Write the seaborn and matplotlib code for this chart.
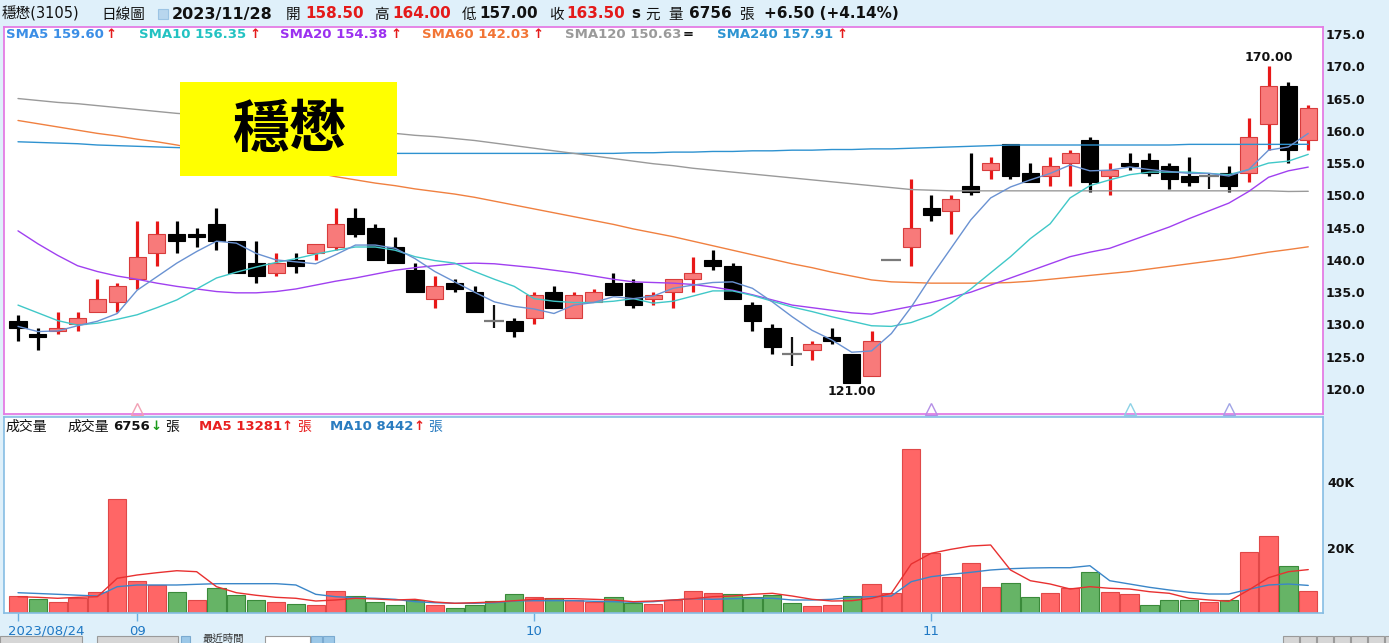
import numpy as np
import matplotlib
matplotlib.use("Agg")
import matplotlib.pyplot as plt
from matplotlib.patches import Rectangle
from matplotlib.transforms import ScaledTranslation
import seaborn as sns

# ---------------- data ----------------
dates = ["2023-08-24", "2023-08-25", "2023-08-28", "2023-08-29", "2023-08-30", "2023-08-31",
         "2023-09-01", "2023-09-04", "2023-09-05", "2023-09-06", "2023-09-07", "2023-09-08",
         "2023-09-11", "2023-09-12", "2023-09-13", "2023-09-14", "2023-09-15",
         "2023-09-18", "2023-09-19", "2023-09-20", "2023-09-21", "2023-09-22",
         "2023-09-25", "2023-09-26", "2023-09-27", "2023-09-28",
         "2023-10-02", "2023-10-03", "2023-10-04", "2023-10-05", "2023-10-06",
         "2023-10-11", "2023-10-12", "2023-10-13",
         "2023-10-16", "2023-10-17", "2023-10-18", "2023-10-19", "2023-10-20",
         "2023-10-23", "2023-10-24", "2023-10-25", "2023-10-26", "2023-10-27",
         "2023-10-30", "2023-10-31",
         "2023-11-01", "2023-11-02", "2023-11-03",
         "2023-11-06", "2023-11-07", "2023-11-08", "2023-11-09", "2023-11-10",
         "2023-11-13", "2023-11-14", "2023-11-15", "2023-11-16", "2023-11-17",
         "2023-11-20", "2023-11-21", "2023-11-22", "2023-11-23", "2023-11-24",
         "2023-11-27", "2023-11-28"]

opens = [130.5, 128.5, 129.0, 130.0, 132.0, 133.5, 137.0, 141.0, 144.0, 144.0,
         145.5, 143.0, 139.5, 138.0, 140.0, 141.0, 142.0, 146.5, 145.0, 142.0,
         138.5, 134.0, 136.5, 135.0, 130.5, 130.5, 131.0, 135.0, 131.0, 133.5,
         136.5, 136.5, 134.0, 135.0, 137.0, 140.0, 139.0, 133.0, 129.5, 125.5,
         126.0, 128.0, 125.5, 122.0, 140.0, 142.0, 148.0, 147.5, 151.5, 154.0,
         158.0, 153.5, 153.0, 155.0, 158.5, 153.0, 155.0, 155.5, 154.5, 153.0,
         153.0, 153.5, 153.5, 161.0, 167.0, 158.5]
highs = [131.5, 129.5, 132.0, 132.0, 137.0, 136.5, 146.0, 146.0, 146.0, 145.0,
         148.0, 143.0, 143.0, 141.0, 141.0, 142.5, 148.0, 148.0, 145.5, 143.5,
         139.5, 137.5, 137.0, 136.0, 133.0, 131.0, 135.0, 136.0, 135.0, 135.5,
         138.0, 137.0, 135.0, 137.0, 140.5, 141.5, 139.5, 133.5, 130.0, 128.0,
         127.5, 129.5, 125.5, 129.0, 140.0, 152.5, 150.0, 150.0, 156.5, 156.0,
         158.0, 155.0, 156.0, 157.0, 159.0, 155.0, 156.5, 156.5, 155.0, 156.0,
         153.5, 154.5, 162.0, 170.0, 167.5, 164.0]
lows = [127.5, 126.0, 128.5, 129.0, 132.0, 132.0, 135.5, 139.0, 141.0, 142.0,
        141.5, 138.0, 136.5, 137.5, 138.0, 140.0, 141.5, 143.5, 140.0, 139.5,
        135.0, 132.5, 135.0, 132.0, 129.5, 128.0, 130.0, 132.5, 131.0, 133.5,
        134.5, 132.5, 133.0, 132.5, 135.0, 138.5, 134.0, 129.0, 125.5, 123.5,
        124.5, 127.0, 121.0, 122.0, 140.0, 139.0, 146.0, 144.0, 150.0, 152.5,
        152.5, 152.0, 151.5, 151.5, 150.5, 150.0, 154.0, 153.0, 151.0, 151.5,
        151.0, 150.5, 152.0, 157.0, 155.0, 157.0]
closes = [129.5, 128.0, 129.5, 131.0, 134.0, 136.0, 140.5, 144.0, 143.0, 143.5,
          143.0, 138.0, 137.5, 139.5, 139.0, 142.5, 145.5, 144.0, 140.0, 139.5,
          135.0, 136.0, 135.5, 132.0, 130.5, 129.0, 134.5, 132.5, 134.5, 135.0,
          134.5, 133.0, 134.5, 137.0, 138.0, 139.0, 134.0, 130.5, 126.5, 125.5,
          127.0, 127.5, 121.0, 127.5, 140.0, 145.0, 147.0, 149.5, 150.5, 155.0,
          153.0, 152.0, 154.5, 156.5, 152.0, 154.0, 154.5, 153.5, 152.5, 152.0,
          153.0, 151.5, 159.0, 167.0, 157.0, 163.5]
volumes = [5200, 4280, 3470, 4490, 6430, 34880, 9790, 8570, 6430, 3980,
           7550, 5510, 3980, 3370, 2750, 2550, 6840, 5200, 3370, 2550,
           3980, 2550, 1630, 2550, 3570, 5810, 4900, 4490, 3880, 3270,
           4900, 3060, 2750, 3980, 6680, 5970, 5670, 4850, 5570, 2910,
           2090, 2600, 5260, 8730, 6190, 50300, 18300, 10970, 15380, 7810,
           9130, 4850, 5970, 7500, 12400, 6490, 5670, 2600, 3830, 4040,
           3220, 3930, 18620, 23530, 14340, 6756]

sma5 = [129.7, 128.9, 129.0, 129.8, 130.5, 131.7, 135.3, 137.4, 139.5, 141.3,
        142.9, 142.6, 141.0, 140.0, 139.7, 139.4, 140.8, 142.3, 142.3, 141.8,
        140.2, 138.2, 136.6, 135.0, 133.5, 132.8, 132.4, 131.7, 133.0, 133.4,
        134.3, 134.0, 134.4, 135.6, 136.1, 136.5, 136.6, 135.6, 133.5, 131.2,
        129.1, 127.6, 125.7, 125.9, 128.6, 132.7, 137.4, 141.8, 146.2, 149.6,
        151.3, 152.4, 153.4, 154.7, 153.8, 153.9, 154.4, 154.0, 153.7, 153.4,
        153.4, 153.0, 154.0, 157.0, 157.5, 159.60]
sma10 = [133.0, 131.8, 130.6, 129.9, 130.2, 130.8, 131.5, 132.6, 133.8, 135.5,
         137.2, 138.1, 138.9, 139.6, 140.2, 140.9, 141.5, 142.0, 142.0, 141.5,
         140.5, 139.9, 139.5, 138.2, 137.0, 135.9, 134.0, 133.6, 133.4, 133.4,
         133.6, 134.0, 133.3, 133.6, 134.4, 135.2, 135.2, 134.5, 133.6, 132.7,
         132.0, 131.2, 130.5, 129.8, 129.7, 130.3, 131.4, 133.3, 135.5, 138.0,
         140.5, 143.3, 145.6, 149.6, 151.5, 152.4, 153.2, 153.6, 153.6, 153.6,
         153.4, 153.2, 154.0, 155.0, 155.3, 156.35]
sma20 = [144.5, 142.5, 140.7, 139.1, 138.2, 137.5, 137.0, 136.4, 135.9, 135.5,
         135.1, 134.9, 134.9, 135.1, 135.5, 136.1, 136.7, 137.2, 137.8, 138.4,
         138.8, 139.1, 139.4, 139.5, 139.4, 139.1, 138.8, 138.4, 138.0, 137.5,
         137.0, 136.6, 136.5, 136.4, 136.2, 135.8, 135.3, 134.6, 133.8, 133.0,
         132.6, 132.2, 131.8, 131.6, 132.2, 132.8, 133.4, 134.2, 135.0, 136.1,
         137.2, 138.3, 139.4, 140.5, 141.2, 141.8, 142.9, 144.0, 145.1, 146.4,
         147.6, 148.8, 150.6, 152.8, 153.8, 154.38]
sma60 = [161.6, 161.1, 160.6, 160.1, 159.6, 159.2, 158.7, 158.3, 157.8, 157.2,
         156.6, 156.0, 155.3, 154.7, 154.1, 153.5, 152.9, 152.4, 151.9, 151.5,
         151.0, 150.6, 150.2, 149.7, 149.1, 148.5, 147.9, 147.3, 146.7, 146.1,
         145.5, 144.8, 144.2, 143.6, 142.9, 142.2, 141.5, 140.8, 140.1, 139.4,
         138.8, 138.1, 137.5, 136.9, 136.6, 136.5, 136.4, 136.4, 136.4, 136.4,
         136.5, 136.7, 137.0, 137.3, 137.6, 137.9, 138.2, 138.6, 139.0, 139.4,
         139.8, 140.2, 140.7, 141.2, 141.6, 142.03]
sma120 = [165.0, 164.7, 164.4, 164.2, 163.9, 163.6, 163.3, 163.0, 162.7, 162.5,
          162.2, 161.9, 161.6, 161.3, 161.1, 160.8, 160.5, 160.2, 159.9, 159.6,
          159.3, 159.1, 158.8, 158.5, 158.1, 157.7, 157.3, 156.9, 156.5, 156.1,
          155.7, 155.3, 154.9, 154.6, 154.2, 153.9, 153.6, 153.3, 153.0, 152.7,
          152.4, 152.1, 151.8, 151.5, 151.2, 150.9, 150.8, 150.7, 150.7, 150.7,
          150.7, 150.7, 150.7, 150.7, 150.7, 150.7, 150.7, 150.7, 150.7, 150.7,
          150.7, 150.7, 150.7, 150.7, 150.6, 150.63]
sma240 = [158.3, 158.2, 158.1, 158.0, 157.8, 157.7, 157.6, 157.5, 157.4, 157.3,
          157.2, 157.1, 157.0, 156.9, 156.8, 156.7, 156.6, 156.6, 156.5, 156.5,
          156.5, 156.5, 156.5, 156.5, 156.5, 156.5, 156.5, 156.5, 156.5, 156.5,
          156.5, 156.6, 156.6, 156.7, 156.7, 156.8, 156.8, 156.9, 156.9, 157.0,
          157.0, 157.1, 157.1, 157.2, 157.2, 157.3, 157.4, 157.5, 157.6, 157.7,
          157.8, 157.8, 157.8, 157.8, 157.8, 157.8, 157.8, 157.8, 157.8, 157.9,
          157.9, 157.9, 157.9, 157.9, 157.9, 157.91]
vol_ma5 = [4990, 4800, 4500, 4800, 4990, 10620, 11630, 12330, 12940, 12640,
           8050, 6210, 5420, 4800, 4500, 3670, 3980, 4500, 4280, 3980,
           4190, 3370, 2970, 3150, 3370, 3760, 4190, 4380, 4380, 4190,
           3980, 3460, 3670, 3980, 4380, 4990, 5200, 5720, 6030, 5200,
           4190, 3670, 3760, 4500, 6030, 14990, 18270, 19490, 20500, 20810,
           13160, 9880, 8870, 7340, 8050, 7560, 7340, 6520, 6030, 4500,
           3980, 3580, 7040, 10800, 12640, 13281]
vol_ma10 = [6210, 5970, 5720, 5450, 5200, 8050, 8570, 8570, 8570, 8780,
            8970, 8970, 8970, 8970, 8570, 5720, 4990, 4680, 4500, 4190,
            3460, 3150, 2970, 2970, 3150, 3670, 3760, 3760, 3760, 3580,
            3460, 3270, 3460, 3980, 4380, 4190, 4380, 4500, 4500, 3980,
            3980, 4190, 4800, 4990, 5200, 9580, 11110, 11840, 12450, 13160,
            13560, 13770, 13860, 13860, 14470, 9880, 8870, 7860, 7040, 6330,
            5810, 5810, 7250, 8570, 8870, 8442]

price_ticks = [120, 125, 130, 135, 140, 145, 150, 155, 160, 165, 170, 175]
vol_ticks = [20000, 40000]
vol_tick_labels = ["20K", "40K"]
date_tick_dates = ["2023-08-24", "2023-09-01", "2023-10-02", "2023-11-01"]
date_tick_labels = ["2023/08/24", "09", "10", "11"]
marker_dates = ["2023-09-01", "2023-11-01", "2023-11-15", "2023-11-22"]
marker_colors = ["#f2a0b4", "#b48ee6", "#8cd2e6", "#a0a4e6"]

# ---------------- style ----------------
sns.set_theme(style="white")
plt.rcParams["font.family"] = ["DejaVu Sans", "Noto Sans CJK TC"]

W, Hh = 1389, 643
fig = plt.figure(figsize=(W / 100, Hh / 100), dpi=100, facecolor="#dff0fa")


def fx(px):
    return px / W


def fy(py):
    return 1 - py / Hh


x_left, x_right = 4, 1323
ax_p = fig.add_axes([fx(x_left), fy(414), fx(x_right - x_left), (414 - 27) / Hh])
ax_v = fig.add_axes([fx(x_left), fy(613), fx(x_right - x_left), (613 - 417) / Hh])

step = 19.85
xlim = ((x_left - 18) / step, (x_right - 18) / step)

idx = np.arange(len(closes))
O = np.array(opens); Hi = np.array(highs); Lo = np.array(lows); C = np.array(closes)
V = np.array(volumes)

# ---- price panel ----
ax_p.set_facecolor("white")
up = C > O
dn = C < O
fl = C == O
ax_p.vlines(idx[up], Lo[up], Hi[up], color="#e81818", lw=2.3, zorder=2)
ax_p.vlines(idx[dn], Lo[dn], Hi[dn], color="black", lw=2.3, zorder=2)
ax_p.vlines(idx[fl], Lo[fl], Hi[fl], color="#111111", lw=1.6, zorder=2)
ax_p.bar(idx[up], C[up] - O[up], bottom=O[up], width=0.86, color="#f87a7a",
         edgecolor="#d83c3c", linewidth=0.8, zorder=3)
ax_p.bar(idx[dn], O[dn] - C[dn], bottom=C[dn], width=0.86, color="black",
         edgecolor="black", linewidth=0.8, zorder=3)
ax_p.hlines(C[fl], idx[fl] - 0.5, idx[fl] + 0.5, color="#7a7a7a", lw=1.6, zorder=3)

ma_specs = [(sma240, "#2e92d0"), (sma120, "#9a9a9a"), (sma60, "#f08040"),
            (sma20, "#a040f0"), (sma10, "#40c8c8"), (sma5, "#6a92d2")]
for vals, col in ma_specs:
    sns.lineplot(x=idx, y=vals, ax=ax_p, color=col, linewidth=1.0, legend=False, zorder=4)

ax_p.set_xlim(*xlim)
ax_p.set_ylim(116.13, 176.08)
ax_p.set_xticks([])
ax_p.set_yticks(price_ticks)
ax_p.set_yticklabels([f"{v:.1f}" for v in price_ticks])
ax_p.yaxis.tick_right()
ax_p.tick_params(axis="y", length=0, pad=2, labelsize=9, labelcolor="#111111")
for t in ax_p.get_yticklabels():
    t.set_fontweight("bold")
ax_p.set_xlabel(""); ax_p.set_ylabel("")
for s in ax_p.spines.values():
    s.set_visible(True)
    s.set_color("#e47ce4")
    s.set_linewidth(1.3)

# high / low labels
i_hi = int(np.argmax(Hi)); i_lo = int(np.argmin(Lo))
ax_p.text(i_hi, Hi[i_hi] + 0.35, f"{Hi[i_hi]:.2f}", ha="center", va="bottom",
          fontsize=9, fontweight="bold", color="#111111", zorder=6)
ax_p.text(i_lo, Lo[i_lo] - 0.35, f"{Lo[i_lo]:.2f}", ha="center", va="top",
          fontsize=9, fontweight="bold", color="#111111", zorder=6)

# event markers at the bottom of the price panel
for d, col in zip(marker_dates, marker_colors):
    ax_p.plot(dates.index(d), 116.85, marker="^", markersize=9, mfc="none",
              mec=col, mew=1.0, clip_on=False, zorder=6)

# ---- volume panel ----
ax_v.set_facecolor("white")
vol_up = np.r_[True, C[1:] >= C[:-1]]
ax_v.bar(idx[vol_up], V[vol_up], width=0.92, color="#ff6666", edgecolor="#e04848",
         linewidth=0.8, zorder=2)
ax_v.bar(idx[~vol_up], V[~vol_up], width=0.92, color="#66b466", edgecolor="#3a8a3a",
         linewidth=0.8, zorder=2)
sns.lineplot(x=idx, y=vol_ma10, ax=ax_v, color="#3a86c8", linewidth=1.0, legend=False, zorder=4)
sns.lineplot(x=idx, y=vol_ma5, ax=ax_v, color="#e83030", linewidth=1.0, legend=False, zorder=4)
ax_v.set_xlim(*xlim)
ax_v.set_ylim(0, 59980)
ax_v.set_yticks(vol_ticks)
ax_v.set_yticklabels(vol_tick_labels)
ax_v.yaxis.tick_right()
ax_v.tick_params(axis="y", length=0, pad=3, labelsize=9, labelcolor="#111111")
for t in ax_v.get_yticklabels():
    t.set_fontweight("bold")
ax_v.set_xticks([dates.index(d) for d in date_tick_dates])
ax_v.set_xticklabels(date_tick_labels)
ax_v.tick_params(axis="x", bottom=True, length=6, width=1, color="#6aaee0",
                 pad=2.5, labelsize=9.5, labelcolor="#1f78c4")
first = ax_v.get_xticklabels()[0]
first.set_ha("left")
first.set_transform(first.get_transform() + ScaledTranslation(-0.10, 0, fig.dpi_scale_trans))
ax_v.set_xlabel(""); ax_v.set_ylabel("")
for s in ax_v.spines.values():
    s.set_visible(True)
    s.set_color("#86bde4")
    s.set_linewidth(1.2)

# ---------------- texts ----------------
def ftxt(xp, yp, s, **kw):
    kw.setdefault("va", "center")
    kw.setdefault("ha", "left")
    fig.text(fx(xp), fy(yp), s, **kw)


def fbox(x0, y0, x1, y1, fc, ec, lw=0.8, z=1):
    fig.patches.append(Rectangle((fx(x0), fy(y1)), fx(x1 - x0), (y1 - y0) / Hh,
                                 transform=fig.transFigure, facecolor=fc,
                                 edgecolor=ec, lw=lw, zorder=z))

# header line
hy = 14
ftxt(2, hy, "穩懋(3105)", fontsize=10.5, color="#111111")
ftxt(101, hy, "日線圖", fontsize=10.5, color="#111111")
fbox(158, 9, 168, 19, "#b8d6ee", "#9cc4e4")
ftxt(172, hy, "2023/11/28", fontsize=11.5, fontweight="bold", color="#111111")
ftxt(286, hy, "開", fontsize=10.5, color="#111111")
ftxt(305, hy, "158.50", fontsize=11, fontweight="bold", color="#e41a1a")
ftxt(374, hy, "高", fontsize=10.5, color="#111111")
ftxt(392, hy, "164.00", fontsize=11, fontweight="bold", color="#e41a1a")
ftxt(462, hy, "低", fontsize=10.5, color="#111111")
ftxt(479, hy, "157.00", fontsize=11, fontweight="bold", color="#111111")
ftxt(549, hy, "收", fontsize=10.5, color="#111111")
ftxt(566, hy, "163.50", fontsize=11, fontweight="bold", color="#e41a1a")
ftxt(631, hy, "s", fontsize=11, fontweight="bold", color="#111111")
ftxt(645, hy, "元", fontsize=10.5, color="#111111")
ftxt(668, hy, "量", fontsize=10.5, color="#111111")
ftxt(689, hy, "6756", fontsize=11, fontweight="bold", color="#111111")
ftxt(739, hy, "張", fontsize=10.5, color="#111111")
ftxt(764, hy, "+6.50 (+4.14%)", fontsize=11, fontweight="bold", color="#111111")

# MA legend line
ly = 35
legend_items = [(6, "SMA5 159.60", "#3b8ee6", 111, "↑"),
                (139, "SMA10 156.35", "#22c2c2", 255, "↑"),
                (280, "SMA20 154.38", "#9b30f0", 396, "↑"),
                (422, "SMA60 142.03", "#f27535", 538, "↑"),
                (565, "SMA120 150.63", "#9a9a9a", 688, "="),
                (717, "SMA240 157.91", "#2d94d2", 842, "↑")]
for x0, s, col, xa, arr in legend_items:
    ftxt(x0, ly, s, fontsize=9.5, fontweight="bold", color=col)
    ftxt(xa, ly, arr, fontsize=9.5, fontweight="bold",
         color="#e41a1a" if arr == "↑" else "#111111", ha="center")

# big yellow title box
fbox(180, 82, 397, 176, "#ffff00", "none", lw=0, z=5)
fig.text(fx(289), fy(130), "穩懋", fontsize=41, ha="center", va="center",
         family=["Noto Sans CJK TC"], fontweight="bold", color="black", zorder=6)

# volume header line
vy = 427
ftxt(5, vy, "成交量", fontsize=10, color="#111111")
ftxt(67, vy, "成交量", fontsize=10, color="#111111")
ftxt(113, vy, "6756", fontsize=9.5, fontweight="bold", color="#111111")
ftxt(156, vy, "↓", fontsize=9.5, fontweight="bold", color="#1a9a1a", ha="center")
ftxt(165, vy, "張", fontsize=10, color="#111111")
ftxt(199, vy, "MA5 13281", fontsize=9.5, fontweight="bold", color="#e82020")
ftxt(287, vy, "↑", fontsize=9.5, fontweight="bold", color="#e82020", ha="center")
ftxt(297, vy, "張", fontsize=10, color="#e82020")
ftxt(330, vy, "MA10 8442", fontsize=9.5, fontweight="bold", color="#2a7cc0")
ftxt(419, vy, "↑", fontsize=9.5, fontweight="bold", color="#e82020", ha="center")
ftxt(428, vy, "張", fontsize=10, color="#2a7cc0")

# bottom toolbar strip (partially visible controls), drawn beneath the axes labels
fbox(0, 636, 82, 648, "#d6d6d6", "#9a9a9a", z=-1)
fbox(97, 636, 178, 648, "#d6d6d6", "#9a9a9a", z=-1)
fbox(181, 636, 190, 648, "#9cc8e8", "#7aaad0", z=-1)
ftxt(203, 638.5, "最近時間", fontsize=7.5, color="#333333")
fbox(265, 636, 310, 648, "white", "#9a9a9a", z=-1)
fbox(311, 636, 322, 648, "#9cc8e8", "#7aaad0", z=-1)
fbox(323, 636, 334, 648, "#9cc8e8", "#7aaad0", z=-1)
for x0 in range(1283, 1389, 17):
    fbox(x0, 636, x0 + 16, 648, "#d6d6d6", "#9a9a9a", z=-1)

fig.savefig("out.png", dpi=100, facecolor=fig.get_facecolor())
